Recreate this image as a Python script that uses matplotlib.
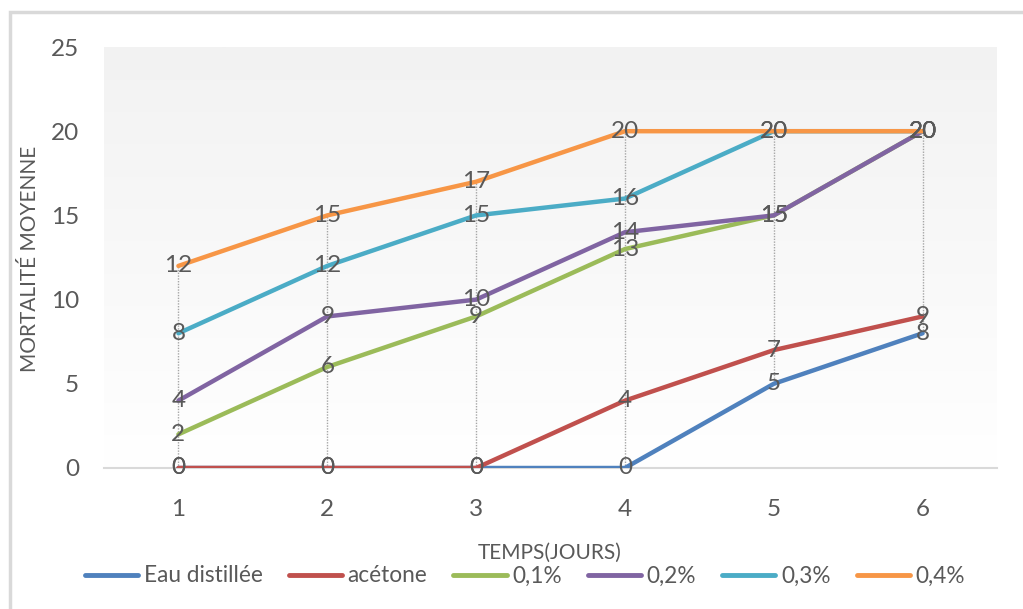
import numpy as np
import matplotlib
matplotlib.use("Agg")
import matplotlib.pyplot as plt
from matplotlib.patches import Rectangle
from matplotlib.colors import LinearSegmentedColormap

# ---- data ----
days = [1, 2, 3, 4, 5, 6]
eau_distillee = [0, 0, 0, 0, 5, 8]
acetone = [0, 0, 0, 4, 7, 9]
c01 = [2, 6, 9, 13, 15, 20]
c02 = [4, 9, 10, 14, 15, 20]
c03 = [8, 12, 15, 16, 20, 20]
c04 = [12, 15, 17, 20, 20, 20]
series_names = ["Eau distillée", "acétone", "0,1%", "0,2%", "0,3%", "0,4%"]
series_values = [eau_distillee, acetone, c01, c02, c03, c04]
colors = ["#4F81BD", "#C0504D", "#9BBB59", "#8064A2", "#4BACC6", "#F79646"]
y_ticks = [0, 5, 10, 15, 20, 25]

plt.rcParams['font.family'] = ['Lato', 'DejaVu Sans']
txt = "#595959"

W, H = 1023, 609
fig = plt.figure(figsize=(W / 100, H / 100), dpi=100)

# outer chart border
fig.patches.append(Rectangle((10 / W, -0.01), 1.02, (609 - 12) / H + 0.01,
                             transform=fig.transFigure, fill=False,
                             edgecolor="#d9d9d9", lw=2.5, zorder=0))

ax = fig.add_axes([104 / W, (609 - 468) / H, (997 - 104) / W, (468 - 47) / H])
ax.set_xlim(0.5, 6.5)
ax.set_ylim(0, 25)

# gradient background
grad = np.linspace(0, 1, 256).reshape(-1, 1)
cmap = LinearSegmentedColormap.from_list("g", ["#f2f2f2", "#ffffff"])
ax.imshow(grad, cmap=cmap, aspect="auto", extent=[0, 1, 0, 1],
          transform=ax.transAxes, zorder=0, origin="upper")

for s in ["top", "right", "left"]:
    ax.spines[s].set_visible(False)
ax.spines["bottom"].set_color("#d9d9d9")
ax.spines["bottom"].set_linewidth(1.5)

# drop lines
all_vals = np.array(series_values)
for i, d in enumerate(days):
    ax.vlines(d, all_vals[:, i].min(), all_vals[:, i].max(), colors="#a6a6a6",
              linestyles=(0, (1, 1)), lw=1, zorder=1)

for name, vals, c in zip(series_names, series_values, colors):
    ax.plot(days, vals, color=c, lw=3.2, label=name, zorder=3,
            solid_capstyle="round")

for vals in series_values:
    for d, v in zip(days, vals):
        ax.text(d, v, str(v), ha="center", va="center", fontsize=17.5,
                color=txt, zorder=5)

ax.set_xticks(days)
ax.set_yticks(y_ticks)
ax.tick_params(axis="both", length=0, labelsize=17.5, colors=txt)
ax.tick_params(axis="x", pad=22)
ax.tick_params(axis="y", pad=18)

fig.text(30 / W, 1 - 259 / H, "MORTALITÉ MOYENNE", rotation=90, ha="center",
         va="center", fontsize=15, color=txt)
fig.text(550 / W, 1 - 553 / H, "TEMPS(JOURS)", ha="center", va="center",
         fontsize=15, color=txt)

leg = fig.legend(loc="center", bbox_to_anchor=(525 / W, 1 - 576 / H), ncol=6,
                 frameon=False, fontsize=16.3, handlelength=2.35,
                 handletextpad=0.25, columnspacing=1.15, labelcolor=txt)
for l in leg.get_lines():
    l.set_linewidth(3.5)
    l.set_solid_capstyle("round")

fig.savefig("out.png", dpi=100)
